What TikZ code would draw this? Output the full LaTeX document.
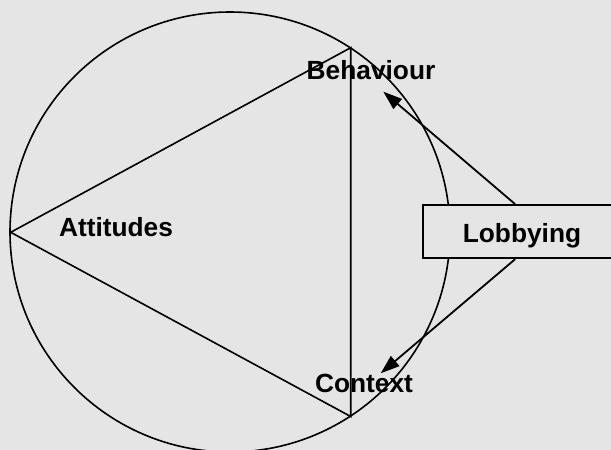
\documentclass[tikz,border=0pt]{standalone}
\usepackage{fontspec}
\setmainfont{Liberation Sans}
\usetikzlibrary{arrows.meta}
\definecolor{bg}{RGB}{229,229,229}
\begin{document}
\begin{tikzpicture}[x=1pt,y=-1pt,
  line width=1.8pt,
  lbl/.style={font=\fontsize{26.3}{30}\selectfont\bfseries, inner sep=0pt, anchor=base},
  arr/.style={-{Triangle[length=19pt,width=13pt]}, line width=1.8pt}]
\useasboundingbox (0,0) rectangle (611,450);
\fill[bg] (0,0) rectangle (611,450);
\clip (0,0) rectangle (611,450);
% circle
\node[draw, circle, minimum size=440pt, inner sep=0pt, line width=1.6pt] (circ) at (230,232) {};
% triangle vertices
\coordinate (A) at (10.7,232.3);
\coordinate (B) at (350.7,47.7);
\coordinate (C) at (350.7,416.5);
\draw[line width=1.6pt, line join=miter] (A) -- (B) -- (C) -- cycle;
% labels
\node[lbl] (att) at (116,236) {Attitudes};
\node[lbl] (beh) at (371,79.3) {Behaviour};
\node[lbl] (con) at (364,392.3) {Context};
% lobbying box
\node[draw, fill=bg, rectangle, minimum width=217.3pt, minimum height=53.3pt, inner sep=0pt, line width=1.8pt] (lob) at (531.35,231.65) {};
\node[lbl] (lobt) at (522,242.3) {Lobbying};
% arrows
\coordinate (ls) at ([xshift=93.3pt]lob.north west);
\coordinate (lb) at ([xshift=93.3pt]lob.south west);
\coordinate (bt) at (383.3,91.7);
\coordinate (ct) at (380.7,373.3);
\draw[arr] (ls) -- (bt);
\draw[arr] (lb) -- (ct);
\end{tikzpicture}
\end{document}
